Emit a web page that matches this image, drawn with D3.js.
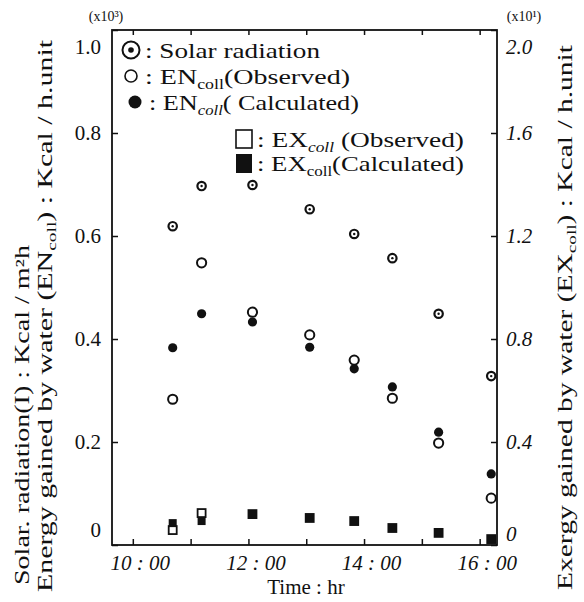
<!DOCTYPE html>
<html>
<head>
<meta charset="utf-8">
<script src="https://cdn.jsdelivr.net/npm/d3@7"></script>
<style>
  body { margin: 0; background: #fff; }
  svg { display: block; }
  svg text { font-family: "Liberation Serif", "Times New Roman", serif; fill: #111; }
</style>
</head>
<body>
<div id="chart"></div>
<script>
// time of day in decimal hours
const times = [10.69, 11.19, 12.07, 13.06, 13.83, 14.49, 15.29, 16.2];

// left axis (x10^3)
const solarRadiation = [0.619, 0.697, 0.699, 0.652, 0.604, 0.557, 0.449, 0.328];
const enObserved = [0.283, 0.548, 0.452, 0.408, 0.359, 0.285, 0.198, 0.091];
const enCalculated = [0.383, 0.449, 0.433, 0.384, 0.342, 0.307, 0.219, 0.138];

// right axis (x10^1)
const exObserved = [0.058, 0.124, 0.12, 0.105, 0.093, 0.066, 0.047, 0.023];
const exCalculated = [0.085, 0.093, 0.117, 0.105, 0.093, 0.066, 0.047, 0.023];

const xTicks = [10, 11, 12, 13, 14, 15, 16];
const leftTicks = [0, 0.2, 0.4, 0.6, 0.8, 1.0];
const rightTicks = [0, 0.4, 0.8, 1.2, 1.6, 2.0];

const serif = '"Liberation Serif", "Times New Roman", serif';
const width = 584;
const height = 602;
const box = { left: 112, right: 497, top: 30, bottom: 545 };

const svg = d3.select('#chart')
  .append('svg')
  .attr('width', width)
  .attr('height', height)
  .attr('font-family', serif);

const x = d3.scaleLinear()
  .domain([9.64, 16.3])
  .range([box.left, box.right]);

const y = d3.scaleLinear()
  .domain([0, 1])
  .range([box.bottom, box.top]);

const y2 = d3.scaleLinear()
  .domain([0, 2])
  .range([box.bottom, box.top]);

// axes
const xAxis = svg.append('g')
  .attr('transform', `translate(0,${box.bottom})`)
  .call(d3.axisBottom(x)
    .tickValues(xTicks)
    .tickSize(-6)
    .tickSizeOuter(0)
    .tickPadding(10)
    .tickFormat(d => d % 2 === 0 ? `${d} : 00` : ''));

xAxis.selectAll('text')
  .attr('dx', 7)
  .style('font-size', '21px')
  .style('font-style', 'italic');

svg.append('g')
  .attr('transform', `translate(0,${box.top})`)
  .call(d3.axisTop(x).tickValues(xTicks).tickSize(-5).tickSizeOuter(0).tickFormat(''));

const leftAxis = svg.append('g')
  .attr('transform', `translate(${box.left},0)`)
  .call(d3.axisLeft(y)
    .tickValues(leftTicks)
    .tickSize(-6)
    .tickSizeOuter(0)
    .tickPadding(11)
    .tickFormat(d => d === 0 ? '0' : d3.format('.1f')(d)));

leftAxis.selectAll('text').style('font-size', '21px');
leftAxis.selectAll('.tick')
  .filter(d => d === 1 || d === 0)
  .select('text')
  .attr('dy', d => d === 1 ? '1.1em' : '-0.4em');

const rightAxis = svg.append('g')
  .attr('transform', `translate(${box.right},0)`)
  .call(d3.axisRight(y2)
    .tickValues(rightTicks)
    .tickSize(-6)
    .tickSizeOuter(0)
    .tickPadding(9)
    .tickFormat(d => d === 0 ? '0' : d3.format('.1f')(d)));

rightAxis.selectAll('text')
  .style('font-size', '21px')
  .style('font-style', 'italic');
rightAxis.selectAll('.tick')
  .filter(d => d === 2 || d === 0)
  .select('text')
  .attr('dy', d => d === 2 ? '1.1em' : '-0.2em');

svg.selectAll('.domain').remove();
svg.selectAll('.tick line').attr('stroke', '#111').attr('stroke-width', 1.5);
svg.selectAll('g').attr('font-family', serif);
svg.selectAll('.tick text').style('font-family', serif);

// frame
svg.append('rect')
  .attr('x', box.left)
  .attr('y', box.top)
  .attr('width', box.right - box.left)
  .attr('height', box.bottom - box.top)
  .attr('fill', 'none')
  .attr('stroke', '#111')
  .attr('stroke-width', 1.8);

// multiplier notes
svg.append('text')
  .attr('x', 106).attr('y', 21)
  .attr('text-anchor', 'middle')
  .style('font-size', '14px')
  .text('(x10³)');

svg.append('text')
  .attr('x', 524).attr('y', 21)
  .attr('text-anchor', 'middle')
  .style('font-size', '14px')
  .text('(x10¹)');

// axis titles
svg.append('text')
  .attr('x', 306)
  .attr('y', 594)
  .attr('text-anchor', 'middle')
  .style('font-size', '21px')
  .text('Time : hr');

function rotatedLabel(cx, yStart, len, parts) {
  const t = svg.append('text')
    .attr('transform', `translate(${cx},${yStart}) rotate(-90)`)
    .attr('textLength', len)
    .attr('lengthAdjust', 'spacingAndGlyphs')
    .style('font-size', '20px');
  parts.forEach(p => {
    const s = t.append('tspan').text(p.text);
    if (p.sub) s.style('font-size', '13px').attr('dy', 4);
    if (p.after) s.attr('dy', -4);
  });
  return t;
}

rotatedLabel(29, 585, 340, [{ text: 'Solar. radiation(I) : Kcal / m²h' }]);
rotatedLabel(52, 592, 552, [
  { text: 'Energy gained by water (EN' },
  { text: 'coll', sub: true },
  { text: ') : Kcal / h.unit', after: true }
]);
rotatedLabel(572, 590, 545, [
  { text: 'Exergy gained by water (EX' },
  { text: 'coll', sub: true },
  { text: ') : Kcal / h.unit', after: true }
]);

// data marks
const plot = svg.append('g');

const rows = times.map((t, i) => ({
  t,
  solar: solarRadiation[i],
  enObs: enObserved[i],
  enCalc: enCalculated[i],
  exObs: exObserved[i],
  exCalc: exCalculated[i]
}));

plot.selectAll('.solar')
  .data(rows)
  .enter()
  .append('circle')
  .attr('class', 'solar')
  .attr('cx', d => x(d.t))
  .attr('cy', d => y(d.solar))
  .attr('r', 4.2)
  .attr('fill', '#fff')
  .attr('stroke', '#111')
  .attr('stroke-width', 2.2);

plot.selectAll('.solar-dot')
  .data(rows)
  .enter()
  .append('circle')
  .attr('class', 'solar-dot')
  .attr('cx', d => x(d.t))
  .attr('cy', d => y(d.solar))
  .attr('r', 1.2)
  .attr('fill', '#111');

plot.selectAll('.en-obs')
  .data(rows)
  .enter()
  .append('circle')
  .attr('class', 'en-obs')
  .attr('cx', d => x(d.t))
  .attr('cy', d => y(d.enObs))
  .attr('r', 4.6)
  .attr('fill', '#fff')
  .attr('stroke', '#111')
  .attr('stroke-width', 2);

plot.selectAll('.en-calc')
  .data(rows)
  .enter()
  .append('circle')
  .attr('class', 'en-calc')
  .attr('cx', d => x(d.t))
  .attr('cy', d => y(d.enCalc))
  .attr('r', 4.6)
  .attr('fill', '#111');

const sq = 8;

plot.selectAll('.ex-obs')
  .data(rows)
  .enter()
  .append('rect')
  .attr('class', 'ex-obs')
  .attr('x', d => x(d.t) - sq / 2)
  .attr('y', d => y2(d.exObs) - sq / 2)
  .attr('width', sq)
  .attr('height', sq)
  .attr('fill', '#fff')
  .attr('stroke', '#111')
  .attr('stroke-width', 1.8);

plot.selectAll('.ex-calc')
  .data(rows)
  .enter()
  .append('rect')
  .attr('class', 'ex-calc')
  .attr('x', d => x(d.t) - sq / 2)
  .attr('y', d => y2(d.exCalc) - sq / 2)
  .attr('width', sq)
  .attr('height', sq)
  .attr('fill', '#111');

// legend
const legend = svg.append('g');

function legendText(tx, ty, len, parts) {
  const t = legend.append('text')
    .attr('x', tx)
    .attr('y', ty)
    .attr('dy', '0.35em')
    .attr('textLength', len)
    .attr('lengthAdjust', 'spacingAndGlyphs')
    .style('font-size', '22px');
  parts.forEach(p => {
    const s = t.append('tspan').text(p.text);
    if (p.sub) {
      s.style('font-size', '14px').attr('dy', 5);
      if (p.italic) s.style('font-style', 'italic');
    }
    if (p.after) s.attr('dy', -5);
  });
}

// solar
legend.append('circle').attr('cx', 131).attr('cy', 50).attr('r', 8.5)
  .attr('fill', '#fff').attr('stroke', '#111').attr('stroke-width', 2);
legend.append('circle').attr('cx', 131).attr('cy', 50).attr('r', 2.8).attr('fill', '#111');
legendText(145, 50, 175, [{ text: ': Solar radiation' }]);

// EN observed
legend.append('circle').attr('cx', 131).attr('cy', 76).attr('r', 6)
  .attr('fill', '#fff').attr('stroke', '#111').attr('stroke-width', 1.6);
legendText(145, 76, 205, [
  { text: ': EN' }, { text: 'coll', sub: true }, { text: '(Observed)', after: true }
]);

// EN calculated
legend.append('circle').attr('cx', 135).attr('cy', 102).attr('r', 6.5).attr('fill', '#111');
legendText(149, 102, 210, [
  { text: ': EN' }, { text: 'coll', sub: true, italic: true }, { text: '( Calculated)', after: true }
]);

// EX observed
legend.append('rect').attr('x', 236).attr('y', 130).attr('width', 16).attr('height', 18)
  .attr('fill', '#fff').attr('stroke', '#111').attr('stroke-width', 1.6);
legendText(257, 139, 207, [
  { text: ': EX' }, { text: 'coll', sub: true, italic: true }, { text: ' (Observed)', after: true }
]);

// EX calculated
legend.append('rect').attr('x', 236).attr('y', 154).attr('width', 16).attr('height', 19)
  .attr('fill', '#111');
legendText(257, 163, 207, [
  { text: ': EX' }, { text: 'coll', sub: true }, { text: '(Calculated)', after: true }
]);
</script>
</body>
</html>
